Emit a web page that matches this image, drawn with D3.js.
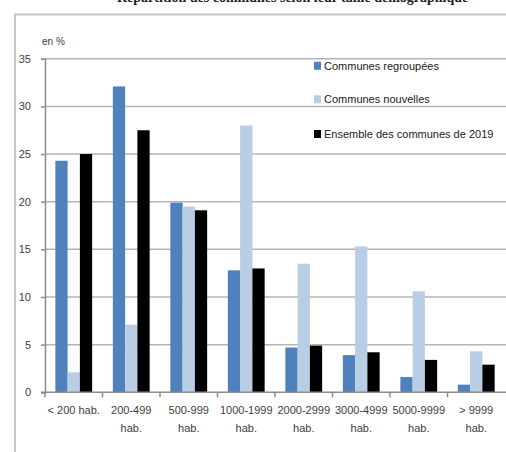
<!DOCTYPE html>
<html>
<head>
<meta charset="utf-8">
<script src="https://cdn.jsdelivr.net/npm/d3@7/dist/d3.min.js"></script>
<style>
  html, body { margin: 0; padding: 0; background: #fff; }
  svg { display: block; }
  text { font-family: "Liberation Sans", Arial, sans-serif; }
</style>
</head>
<body>
<svg id="chart" width="506" height="452"></svg>
<script>
// Size classes of communes (x axis), two-line labels
const categories = ["< 200 hab.", "200-499 hab.", "500-999 hab.", "1000-1999 hab.",
                    "2000-2999 hab.", "3000-4999 hab.", "5000-9999 hab.", "> 9999 hab."];
const labelLines = [["< 200 hab."], ["200-499", "hab."], ["500-999", "hab."], ["1000-1999", "hab."],
                    ["2000-2999", "hab."], ["3000-4999", "hab."], ["5000-9999", "hab."], ["> 9999", "hab."]];

// Share of communes in each class, in %
const seriesNames = ["Communes regroupées", "Communes nouvelles", "Ensemble des communes de 2019"];
const regroupees = [24.3, 32.1, 19.9, 12.8, 4.7, 3.9, 1.6, 0.8];
const nouvelles  = [2.1, 7.1, 19.5, 28.0, 13.5, 15.3, 10.6, 4.3];
const ensemble   = [25.0, 27.5, 19.1, 13.0, 4.9, 4.2, 3.4, 2.9];
const yTicks = [0, 5, 10, 15, 20, 25, 30, 35];
const colors = ["#4f81bd", "#b9cde5", "#000000"];

const seriesValues = [regroupees, nouvelles, ensemble];
const rows = categories.map((c, i) => ({ cat: c, values: seriesValues.map(s => s[i]) }));

const svg = d3.select("#chart");

// Outer frame of the figure
svg.append("path")
  .attr("d", "M15,452 L15,14.5 L506,14.5")
  .attr("fill", "none").attr("stroke", "#c8c8c8").attr("stroke-width", 2);

// Title (runs off the top of the page)
svg.append("text")
  .attr("x", 117).attr("y", 2)
  .style("font-family", "'Liberation Serif', serif")
  .style("font-weight", "bold").style("font-size", "14px").attr("fill", "#222")
  .text("Répartition des communes selon leur taille démographique");

const x = d3.scaleBand().domain(categories).range([45, 505]).paddingInner(0).paddingOuter(0);
const xs = d3.scaleBand().domain(d3.range(seriesNames.length)).range([x.bandwidth() * 0.18, x.bandwidth() * 0.82]);
const y = d3.scaleLinear().domain([0, 35]).range([392.3, 58.8]);

// Horizontal gridlines
svg.append("g").selectAll("line").data(yTicks.filter(t => t > 0)).join("line")
  .attr("x1", 45).attr("x2", 506)
  .attr("y1", d => y(d)).attr("y2", d => y(d))
  .attr("stroke", "#b4b4b4").attr("stroke-width", 1.5);

// Bars
svg.append("g").selectAll("g").data(rows).join("g")
  .attr("transform", d => `translate(${x(d.cat)},0)`)
  .selectAll("rect").data(d => d.values.map((v, k) => ({ v, k }))).join("rect")
  .attr("x", d => xs(d.k)).attr("width", xs.bandwidth())
  .attr("y", d => y(d.v)).attr("height", d => y(0) - y(d.v))
  .attr("fill", d => colors[d.k]);

// Y axis
const yAxis = svg.append("g").attr("transform", "translate(45,0)")
  .call(d3.axisLeft(y).tickValues(yTicks).tickSize(4).tickPadding(10));
yAxis.select(".domain").attr("stroke", "#8c8c8c").attr("stroke-width", 1.5);
yAxis.selectAll(".tick line").attr("stroke", "#8c8c8c").attr("stroke-width", 1.5);
yAxis.selectAll(".tick text").attr("fill", "#404040")
  .style("font-family", "'Liberation Sans', sans-serif").style("font-size", "11px");

// X axis: baseline and boundary ticks
const xAxis = svg.append("g").attr("transform", `translate(0,${y(0)})`);
xAxis.append("line").attr("x1", 41).attr("x2", 506).attr("y1", 0).attr("y2", 0)
  .attr("stroke", "#8c8c8c").attr("stroke-width", 1.5);
xAxis.selectAll("line.b").data(categories).join("line").attr("class", "b")
  .attr("x1", d => x(d)).attr("x2", d => x(d)).attr("y1", 0).attr("y2", 5)
  .attr("stroke", "#8c8c8c").attr("stroke-width", 1.5);
xAxis.selectAll("text").data(categories).join("text")
  .attr("x", d => x(d) + x.bandwidth() / 2)
  .attr("text-anchor", "middle").attr("fill", "#404040").style("font-size", "11px")
  .each(function (d, i) {
    d3.select(this).selectAll("tspan").data(labelLines[i]).join("tspan")
      .attr("x", x(d) + x.bandwidth() / 2)
      .attr("y", (l, j) => 22 + j * 18)
      .text(l => l);
  });

// Unit label
svg.append("text").attr("x", 42).attr("y", 45).attr("fill", "#404040")
  .style("font-size", "10px").text("en %");

// Legend
const legend = svg.append("g").selectAll("g").data(seriesNames).join("g")
  .attr("transform", (d, i) => `translate(314,${[65.7, 99.3, 134][i]})`);
legend.append("rect").attr("x", 0).attr("y", -4).attr("width", 7).attr("height", 8)
  .attr("fill", (d, i) => colors[i]);
legend.append("text").attr("x", 10).attr("y", 4).attr("fill", "#222")
  .style("font-size", "11px").text(d => d);
</script>
</body>
</html>
